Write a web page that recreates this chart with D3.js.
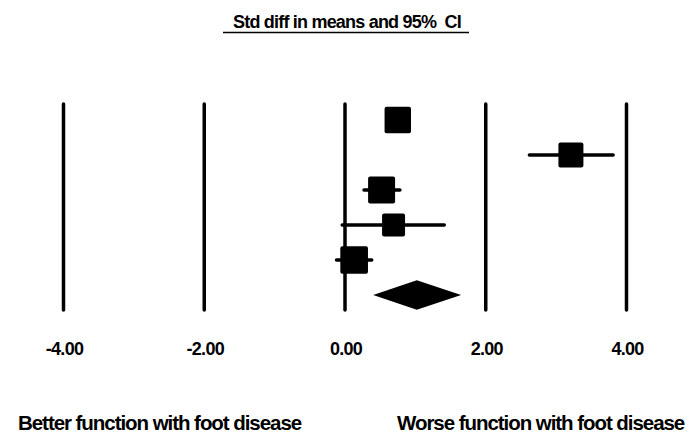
<!DOCTYPE html>
<html>
<head>
<meta charset="utf-8">
<title>Std diff in means forest plot</title>
<style>
  body { margin: 0; background: #fff; }
  svg text { font-family: "Liberation Sans", Arial, sans-serif; font-weight: bold; fill: #000; white-space: pre; }
</style>
</head>
<body>
<div id="chart"></div>
<script src="https://cdn.jsdelivr.net/npm/d3@7"></script>
<script>
// study estimates (std diff in means) and 95% CI
var estimates = [0.75, 3.21, 0.52, 0.69, 0.13];
var lower     = [0.62, 2.62, 0.27, -0.04, -0.12];
var upper     = [0.88, 3.81, 0.78, 1.41, 0.38];
var weights   = [20.9, 18.7, 21.8, 15.8, 22.9];   // relative weight (%)
// pooled result: lower, point, upper
var summary   = [0.40, 1.02, 1.65];
var ticks     = [-4, -2, 0, 2, 4];
var tickLabels = ["-4.00", "-2.00", "0.00", "2.00", "4.00"];

var width = 691, height = 433;

var svg = d3.select('#chart').append('svg')
    .attr('width', width)
    .attr('height', height);

var x = d3.scaleLinear().domain([-4, 4]).range([63.5, 626.5]);
var y = d3.scalePoint().domain(d3.range(estimates.length + 1)).range([120, 295]);
var size = d3.scaleSqrt().domain([0, 25]).range([0, 28.9]);

// title + underline
svg.append('text')
    .attr('x', 347).attr('y', 28)
    .attr('text-anchor', 'middle')
    .style('font-size', '18px')
    .style('letter-spacing', '-0.8px')
    .text('Std diff in means and 95%  CI');
svg.append('line')
    .attr('x1', 223).attr('x2', 469)
    .attr('y1', 32.5).attr('y2', 32.5)
    .attr('stroke', '#000').attr('stroke-width', 1.5);

// reference lines
svg.selectAll('.ref').data(ticks).enter().append('line')
    .attr('class', 'ref')
    .attr('x1', d => x(d)).attr('x2', d => x(d))
    .attr('y1', 104).attr('y2', 310)
    .attr('stroke', '#000').attr('stroke-width', 3.5)
    .attr('stroke-linecap', 'round');

// tick labels
svg.selectAll('.tick').data(ticks).enter().append('text')
    .attr('class', 'tick')
    .attr('x', d => x(d) + 1)
    .attr('y', 355)
    .attr('text-anchor', 'middle')
    .style('font-size', '18px')
    .style('letter-spacing', '-0.7px')
    .text((d, i) => tickLabels[i]);

// CI whiskers
svg.selectAll('.ci').data(estimates).enter().append('line')
    .attr('class', 'ci')
    .attr('x1', (d, i) => x(lower[i])).attr('x2', (d, i) => x(upper[i]))
    .attr('y1', (d, i) => y(i)).attr('y2', (d, i) => y(i))
    .attr('stroke', '#000').attr('stroke-width', 3.5)
    .attr('stroke-linecap', 'round');

// weighted squares
svg.selectAll('.pt').data(estimates).enter().append('rect')
    .attr('class', 'pt')
    .attr('x', (d, i) => x(d) - size(weights[i]) / 2)
    .attr('y', (d, i) => y(i) - size(weights[i]) / 2)
    .attr('width', (d, i) => size(weights[i]))
    .attr('height', (d, i) => size(weights[i]))
    .attr('rx', 2)
    .attr('fill', '#000');

// pooled diamond
var dy = y(estimates.length), hh = 14.7;
svg.append('path')
    .attr('d', 'M' + x(summary[0]) + ',' + dy +
               'L' + x(summary[1]) + ',' + (dy - hh) +
               'L' + x(summary[2]) + ',' + dy +
               'L' + x(summary[1]) + ',' + (dy + hh) + 'Z')
    .attr('fill', '#000');

// direction labels
svg.append('text')
    .attr('x', 18).attr('y', 430)
    .style('font-size', '20.5px')
    .style('letter-spacing', '-1.05px')
    .text('Better function with foot disease');
svg.append('text')
    .attr('x', 397).attr('y', 430)
    .style('font-size', '20.5px')
    .style('letter-spacing', '-1.05px')
    .text('Worse function with foot disease');
</script>
</body>
</html>
